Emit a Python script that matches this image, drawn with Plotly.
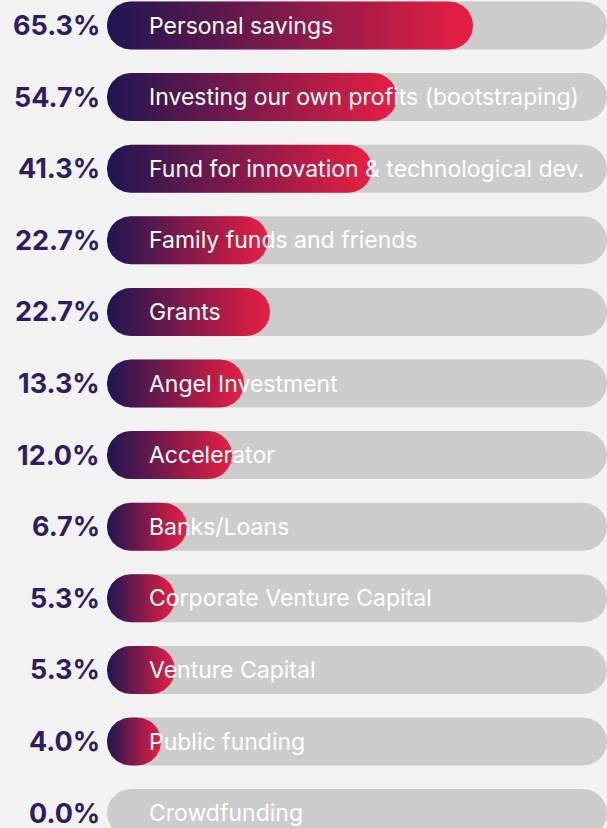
import numpy as np
import plotly.graph_objects as go

# Data
categories = [
    "Personal savings",
    "Investing our own profits (bootstraping)",
    "Fund for innovation & technological dev.",
    "Family funds and friends",
    "Grants",
    "Angel Investment",
    "Accelerator",
    "Banks/Loans",
    "Corporate Venture Capital",
    "Venture Capital",
    "Public funding",
    "Crowdfunding",
]
pct_labels = [65.3, 54.7, 41.3, 22.7, 22.7, 13.3, 12.0, 6.7, 5.3, 5.3, 4.0, 0.0]
# bar lengths as drawn in the source graphic (track = 100), not strictly to scale with the labels
bar_value = [73.2, 58.0, 53.0, 32.2, 32.6, 27.4, 25.0, 16.0, 13.6, 13.6, 10.8, 0.0]
track_max = 100

# geometry (px per unit on each axis)
W, H = 607, 828
px_x = 5.0            # px per x unit
row_px = 71.6         # px per row
row0 = 25.5           # px centre of first row
left_units = 107 / px_x
r_px = 24             # bar radius in px
rx, ry = r_px / px_x, r_px / row_px


def pill(x0, x1, yc, n=40):
    # rounded-end bar as a closed polygon in data units
    t = np.linspace(np.pi / 2, -np.pi / 2, n)
    right_x = (x1 - rx) + rx * np.cos(t)
    right_y = yc - ry * np.sin(t)
    t2 = np.linspace(-np.pi / 2, -3 * np.pi / 2, n)
    left_x = (x0 + rx) + rx * np.cos(t2)
    left_y = yc - ry * np.sin(t2)
    xs = np.concatenate([right_x, left_x, right_x[:1]])
    ys = np.concatenate([right_y, left_y, right_y[:1]])
    return xs, ys


fig = go.Figure()

# grey tracks
for i, cat in enumerate(categories):
    xs, ys = pill(0, track_max, i)
    fig.add_trace(go.Scatter(x=xs, y=ys, mode='lines', fill='toself',
                             fillcolor='#cccccc', line=dict(width=0),
                             hoverinfo='skip', showlegend=False))

# gradient bars
for i, v in enumerate(bar_value):
    if v <= 0:
        continue
    xs, ys = pill(0, v, i)
    fig.add_trace(go.Scatter(x=xs, y=ys, mode='lines', fill='toself',
                             fillgradient=dict(type='horizontal',
                                               colorscale=[[0, '#1e1652'], [1, '#ea1e43']]),
                             line=dict(width=0), hoverinfo='skip', showlegend=False,
                             name=categories[i]))

annotations = []
for i, (cat, p) in enumerate(zip(categories, pct_labels)):
    annotations.append(dict(x=-1.0, y=i, xref='x', yref='y', text=f"<b>{p:.1f}%</b>",
                            showarrow=False, xanchor='right', yanchor='middle',
                            font=dict(family='Inter', size=27, color='#2f1d63')))
    annotations.append(dict(x=8.0, y=i, xref='x', yref='y', text=cat,
                            showarrow=False, xanchor='left', yanchor='middle',
                            font=dict(family='Inter', size=23, color='white')))

fig.update_layout(
    width=W, height=H,
    margin=dict(l=0, r=0, t=0, b=0),
    paper_bgcolor='#f2f2f2', plot_bgcolor='#f2f2f2',
    xaxis=dict(range=[-left_units, -left_units + W / px_x], visible=False, fixedrange=True),
    yaxis=dict(range=[(H - row0) / row_px, -row0 / row_px], visible=False, fixedrange=True),
    annotations=annotations,
    showlegend=False,
)

fig.write_html("out.html", config=dict(displayModeBar=False),
               post_script="document.body.style.margin='0';document.body.style.background='#f2f2f2';")
